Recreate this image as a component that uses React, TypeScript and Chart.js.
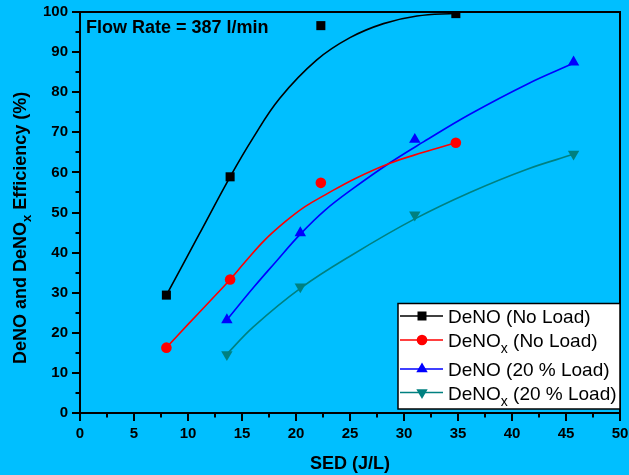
import React, { useEffect, useRef } from 'react';
import { Chart, registerables } from 'chart.js';

Chart.register(...registerables);

// ---- measured data (markers) ----
const sedNoLoad = [8.0, 13.9, 22.3, 34.8];
const deNONoLoad = [29.4, 58.9, 96.6, 99.6];
const deNOxNoLoad = [16.3, 33.3, 57.4, 67.4];
const sed20Load = [13.6, 20.4, 31.0, 45.7];
const deNO20Load = [23.2, 44.9, 68.2, 87.5];
const deNOx20Load = [14.6, 31.5, 49.4, 64.6];

// ---- fitted curves ----
const fitDeNONoLoadX = [8, 11, 13.9, 16, 18.5, 21.9, 25, 28.1, 31.2, 34.8];
const fitDeNONoLoadY = [29.4, 44.4, 58.9, 68.5, 78.5, 88.0, 93.6, 97.1, 99.0, 99.7];
const fitDeNOxNoLoadX = [8, 10, 12, 13.9, 15.3, 17.1, 19.0, 20.8, 22.7, 25.5, 28.7, 31.8, 34.8];
const fitDeNOxNoLoadY = [16.3, 22.1, 27.8, 33.3, 37.7, 43.1, 47.7, 51.4, 54.4, 58.5, 62.3, 65.0, 67.4];
const fitDeNO20LoadX = [13.6, 16.1, 18.1, 20.4, 22.7, 25.3, 28.7, 31.8, 36.1, 41.4, 45.7];
const fitDeNO20LoadY = [23.2, 31.4, 37.6, 44.6, 50.6, 56.0, 62.4, 67.6, 74.5, 82.0, 87.2];
const fitDeNOx20LoadX = [13.6, 16.05, 20.4, 25.3, 31.0, 36.1, 41.4, 45.7];
const fitDeNOx20LoadY = [14.7, 21.5, 31.1, 39.6, 48.4, 55.0, 60.8, 64.5];

// ---- axis ticks ----
const xTickValues = [0, 5, 10, 15, 20, 25, 30, 35, 40, 45, 50];
const yTickValues = [0, 10, 20, 30, 40, 50, 60, 70, 80, 90, 100];

// ---- labels ----
const legendMain = ['DeNO', 'DeNO', 'DeNO', 'DeNO'];
const legendSub = ['', 'x', '', 'x'];
const legendRest = [' (No Load)', ' (No Load)', ' (20 % Load)', ' (20 % Load)'];
const seriesColors = ['#000000', '#FF0000', '#0000FF', '#008080'];
const annotationText = 'Flow Rate = 387 l/min';
const xTitle = 'SED (J/L)';
const yTitleParts = ['DeNO and DeNO', 'x', ' Efficiency (%)'];

const FONT = '"Liberation Sans", Arial, sans-serif';
const BG = '#00BFFF';

function zip(xs: number[], ys: number[]) {
  return xs.map((x, i) => ({ x, y: ys[i] }));
}

function drawMarker(ctx: CanvasRenderingContext2D, kind: number, x: number, y: number, color: string) {
  ctx.save();
  ctx.fillStyle = color;
  ctx.beginPath();
  if (kind === 0) {
    ctx.rect(x - 4.5, y - 4.5, 9, 9);
  } else if (kind === 1) {
    ctx.arc(x, y, 5.3, 0, Math.PI * 2);
  } else if (kind === 2) {
    const r = 6.6;
    ctx.moveTo(x, y - r);
    ctx.lineTo(x + r * 0.866, y + r * 0.5);
    ctx.lineTo(x - r * 0.866, y + r * 0.5);
    ctx.closePath();
  } else {
    const r = 6.6;
    ctx.moveTo(x, y + r);
    ctx.lineTo(x + r * 0.866, y - r * 0.5);
    ctx.lineTo(x - r * 0.866, y - r * 0.5);
    ctx.closePath();
  }
  ctx.fill();
  ctx.restore();
}

const decorPlugin = {
  id: 'decor',
  beforeDraw(chart: any) {
    const ctx = chart.ctx as CanvasRenderingContext2D;
    ctx.save();
    ctx.fillStyle = BG;
    ctx.fillRect(0, 0, chart.width, chart.height);
    ctx.restore();
  },
  afterDraw(chart: any) {
    const ctx = chart.ctx as CanvasRenderingContext2D;
    const area = chart.chartArea;
    const xs = chart.scales.x;
    const ys = chart.scales.y;
    ctx.save();
    ctx.strokeStyle = '#000';
    ctx.lineWidth = 2;
    // top and right frame
    ctx.beginPath();
    ctx.moveTo(area.left, area.top);
    ctx.lineTo(area.right, area.top);
    ctx.lineTo(area.right, area.bottom);
    ctx.stroke();
    // ticks
    ctx.beginPath();
    for (let v = 0; v <= 50.001; v += 2.5) {
      const px = Math.round(xs.getPixelForValue(v));
      const major = Math.abs(v / 5 - Math.round(v / 5)) < 1e-6;
      ctx.moveTo(px, area.bottom);
      ctx.lineTo(px, area.bottom + (major ? 8 : 4.5));
    }
    for (let v = 0; v <= 100.001; v += 5) {
      const py = Math.round(ys.getPixelForValue(v));
      const major = v % 10 === 0;
      ctx.moveTo(area.left, py);
      ctx.lineTo(area.left - (major ? 8 : 4.5), py);
    }
    ctx.stroke();

    // annotation
    ctx.fillStyle = '#000';
    ctx.font = `bold 18px ${FONT}`;
    ctx.textAlign = 'left';
    ctx.textBaseline = 'alphabetic';
    ctx.fillText(annotationText, 86, 32.5);

    // x title
    ctx.textAlign = 'center';
    ctx.fillText(xTitle, (area.left + area.right) / 2, 469);

    // y title (rotated, with subscript)
    ctx.save();
    ctx.translate(26, 364);
    ctx.rotate(-Math.PI / 2);
    ctx.textAlign = 'left';
    let tx = 0;
    ctx.font = `bold 18px ${FONT}`;
    ctx.fillText(yTitleParts[0], tx, 0);
    tx += ctx.measureText(yTitleParts[0]).width;
    ctx.font = `bold 13px ${FONT}`;
    ctx.fillText(yTitleParts[1], tx, 5);
    tx += ctx.measureText(yTitleParts[1]).width;
    ctx.font = `bold 18px ${FONT}`;
    ctx.fillText(yTitleParts[2], tx, 0);
    ctx.restore();

    // legend
    const lx = 398, ly = 303.5, lw = area.right - 398, lh = 105.5;
    ctx.fillStyle = '#FFFFFF';
    ctx.fillRect(lx, ly, lw, lh);
    ctx.lineWidth = 1.5;
    ctx.strokeStyle = '#000';
    ctx.strokeRect(lx, ly, lw, lh);
    const rowY = [316, 340, 369, 392.5];
    for (let i = 0; i < 4; i++) {
      const y = rowY[i];
      ctx.strokeStyle = seriesColors[i];
      ctx.lineWidth = 1.5;
      ctx.beginPath();
      ctx.moveTo(400, y);
      ctx.lineTo(443, y);
      ctx.stroke();
      drawMarker(ctx, i, 422, y, seriesColors[i]);
      ctx.fillStyle = '#000';
      ctx.textAlign = 'left';
      let x = 448;
      const base = y + 7;
      ctx.font = `19px ${FONT}`;
      ctx.fillText(legendMain[i], x, base);
      x += ctx.measureText(legendMain[i]).width;
      if (legendSub[i]) {
        ctx.font = `14px ${FONT}`;
        ctx.fillText(legendSub[i], x, base + 6);
        x += ctx.measureText(legendSub[i]).width;
      }
      ctx.font = `19px ${FONT}`;
      ctx.fillText(legendRest[i], x, base);
    }
    ctx.restore();
  },
};

function zeroPad(s: any) {
  s.paddingTop = 0;
  s.paddingBottom = 0;
  s.paddingLeft = 0;
  s.paddingRight = 0;
}

export default function App() {
  const ref = useRef<HTMLCanvasElement>(null);
  useEffect(() => {
    document.body.style.margin = '0';
    document.body.style.background = BG;
    const canvas = ref.current!;
    const markerBase = { showLine: false, order: 0, borderWidth: 0 };
    const lineBase = { showLine: true, pointRadius: 0, borderWidth: 1.6, order: 1, tension: 0.4, fill: false };
    const chart = new Chart(canvas, {
      type: 'scatter',
      data: {
        datasets: [
          { ...markerBase, data: zip(sedNoLoad, deNONoLoad), pointStyle: 'rect', pointRadius: 6.4, backgroundColor: seriesColors[0], borderColor: seriesColors[0] },
          { ...markerBase, data: zip(sedNoLoad, deNOxNoLoad), pointStyle: 'circle', pointRadius: 5.3, backgroundColor: seriesColors[1], borderColor: seriesColors[1] },
          { ...markerBase, data: zip(sed20Load, deNO20Load), pointStyle: 'triangle', pointRadius: 6.6, backgroundColor: seriesColors[2], borderColor: seriesColors[2] },
          { ...markerBase, data: zip(sed20Load, deNOx20Load), pointStyle: 'triangle', pointRotation: 180, pointRadius: 6.6, backgroundColor: seriesColors[3], borderColor: seriesColors[3] },
          { ...lineBase, data: zip(fitDeNONoLoadX, fitDeNONoLoadY), borderColor: seriesColors[0] },
          { ...lineBase, data: zip(fitDeNOxNoLoadX, fitDeNOxNoLoadY), borderColor: seriesColors[1] },
          { ...lineBase, data: zip(fitDeNO20LoadX, fitDeNO20LoadY), borderColor: seriesColors[2] },
          { ...lineBase, data: zip(fitDeNOx20LoadX, fitDeNOx20LoadY), borderColor: seriesColors[3] },
        ] as any,
      },
      options: {
        animation: false,
        responsive: false,
        devicePixelRatio: 1,
        layout: { padding: { top: 12, right: 9, left: 0, bottom: 0 } },
        plugins: { legend: { display: false }, tooltip: { enabled: false }, title: { display: false } },
        scales: {
          x: {
            type: 'linear',
            min: 0,
            max: 50,
            afterBuildTicks: (s: any) => { s.ticks = xTickValues.map((v) => ({ value: v })); },
            afterFit: (s: any) => { s.height = 62; zeroPad(s); },
            ticks: { color: '#000', font: { family: FONT, size: 15, weight: 'bold' }, padding: 12, maxRotation: 0, autoSkip: false },
            grid: { display: false, drawTicks: false },
            border: { display: true, color: '#000', width: 2 },
          },
          y: {
            type: 'linear',
            min: 0,
            max: 100,
            afterBuildTicks: (s: any) => { s.ticks = yTickValues.map((v) => ({ value: v })); },
            afterFit: (s: any) => { s.width = 80; zeroPad(s); },
            ticks: { color: '#000', font: { family: FONT, size: 15, weight: 'bold' }, padding: 12, autoSkip: false },
            grid: { display: false, drawTicks: false },
            border: { display: true, color: '#000', width: 2 },
          },
        } as any,
      },
      plugins: [decorPlugin],
    });
    return () => chart.destroy();
  }, []);
  return (
    <div style={{ width: 629, height: 475, background: BG }}>
      <canvas ref={ref} width={629} height={475} style={{ display: 'block' }} />
    </div>
  );
}
